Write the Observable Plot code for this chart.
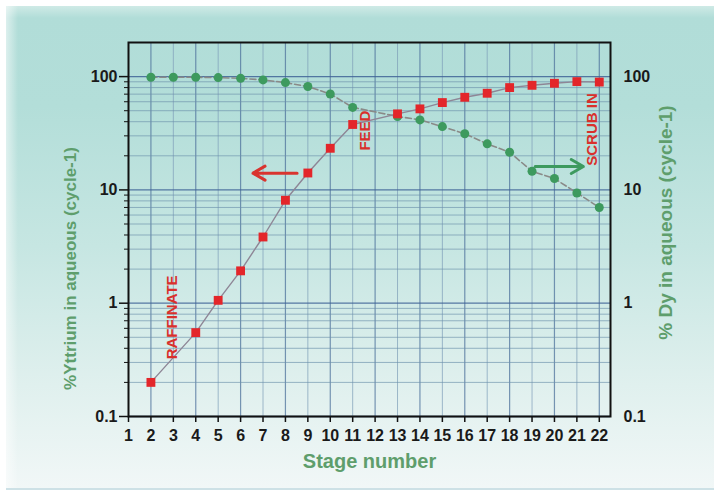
<!DOCTYPE html>
<html><head><meta charset="utf-8">
<script src="https://cdn.jsdelivr.net/npm/d3@7"></script>
<script src="https://cdn.jsdelivr.net/npm/@observablehq/plot@0.6"></script>
<style>
body{margin:0;background:#fff;}
#wrap{position:relative;width:714px;height:500px;overflow:hidden;background:#fff;}
#panel{position:absolute;left:6px;top:6px;width:708px;height:482px;
 background:linear-gradient(to bottom,#cfeae6 0px,#b1ddd8 12px,#b3ded9 100px,#c6e6e2 240px,#e0f0ee 380px,#f1f7f7 482px);
 border-bottom:2px solid #cde1e6;}
#edge{position:absolute;left:6px;top:6px;width:12px;height:482px;background:linear-gradient(to right,rgba(255,255,255,0.55),rgba(255,255,255,0));}
#chart{position:absolute;left:0;top:0;}
</style></head><body>
<div id="wrap"><div id="panel"></div><div id="edge"></div><div id="chart"></div></div>
<script>
// Stage tick labels
const stageTicks = [1,2,3,4,5,6,7,8,9,10,11,12,13,14,15,16,17,18,19,20,21,22];
const decadeTicks = [0.1, 1, 10, 100];

// %Yttrium in aqueous (left axis, red squares)
const yttriumStages = [2,4,5,6,7,8,9,10,11,13,14,15,16,17,18,19,20,21,22];
const yttriumValues = [0.2,0.55,1.06,1.93,3.84,8.1,14.1,23.3,37.8,46.9,51.9,59,65.7,71.3,80,83.8,87.3,90.3,89.5];

// % Dy in aqueous (right axis, green circles)
const dyStages = [2,3,4,5,6,7,8,9,10,11,13,14,15,16,17,18,19,20,21,22];
const dyValues = [98.8,98.8,98.6,98,96.6,93.5,88.5,81.7,70.3,53.5,44.5,41.5,36.2,31.3,25.5,21.5,14.6,12.6,9.4,7.0];

// Annotations
const labelTexts = ["RAFFINATE", "FEED", "SCRUB IN"];
const labelStages = [2.94, 11.56, 21.7];
const labelValues = [0.75, 33.4, 34.1];
const arrowFrom = [[8.52, 14.06], [19.14, 16.1]];
const arrowTo = [[6.55, 14.06], [21.29, 16.1]];
const arrowColors = ["#d9342f", "#3d9a5e"];

const yData = yttriumStages.map((s, i) => ({stage: s, value: yttriumValues[i]}));
const dData = dyStages.map((s, i) => ({stage: s, value: dyValues[i]}));
const labels = labelTexts.map((t, i) => ({text: t, stage: labelStages[i], value: labelValues[i]}));
const arrows = arrowFrom.map((f, i) => ({x1: f[0], y1: f[1], x2: arrowTo[i][0], y2: arrowTo[i][1], c: arrowColors[i]}));

const minorY = [];
for (const d of [0.1, 1, 10]) for (let k = 2; k <= 9; k++) minorY.push(+(d * k).toPrecision(3));

const fmt = d => String(d);
const font = {fontSize: 16, fontWeight: "bold", color: "#1a1a1a"};

const chart = Plot.plot({
  width: 714, height: 500,
  marginTop: 42, marginBottom: 84, marginLeft: 128, marginRight: 104,
  style: {background: "transparent", fontFamily: "'Liberation Sans', Arial, sans-serif"},
  x: {domain: [1, 22.5], label: null},
  y: {type: "log", domain: [0.1, 200], label: null},
  marks: [
    Plot.gridX(stageTicks.filter(d => d % 2 === 1), {stroke: "#7d9db8", strokeOpacity: 0.7, strokeWidth: 1}),
    Plot.gridX(stageTicks.filter(d => d % 2 === 0), {stroke: "#4f739c", strokeOpacity: 0.75, strokeWidth: 1.2}),
    Plot.gridY(minorY, {stroke: "#6b90aa", strokeOpacity: 0.65, strokeWidth: 1}),
    Plot.gridY(decadeTicks, {stroke: "#3f6496", strokeOpacity: 0.85, strokeWidth: 1.3}),
    Plot.line(dData, {x: "stage", y: "value", stroke: "#8a8a88", strokeWidth: 1.6, strokeDasharray: "6,3"}),
    Plot.line(yData, {x: "stage", y: "value", stroke: "#8e8696", strokeWidth: 1.4}),
    Plot.dot(dData, {x: "stage", y: "value", r: 4.5, fill: "#3d9a5e", stroke: "none"}),
    Plot.dot(yData, {x: "stage", y: "value", r: 5, symbol: "square", fill: "#e3262a", stroke: "none"}),
    Plot.arrow(arrows, {x1: "x1", y1: "y1", x2: "x2", y2: "y2", stroke: "c", strokeWidth: 3, headLength: 7, bend: 0}),
    Plot.text(labels, {x: "stage", y: "value", text: "text", rotate: -90, fill: "#d9302c", fontSize: 15, fontWeight: "bold"}),
    Plot.frame({stroke: "#111", strokeWidth: 2}),
    Plot.axisX(stageTicks, {anchor: "bottom", tickSize: 6, tickPadding: 7, tickFormat: fmt, stroke: "#111", strokeWidth: 1.5, ...font}),
    Plot.axisY(decadeTicks, {anchor: "left", tickSize: 9, tickPadding: 2, tickFormat: fmt, stroke: "#111", strokeWidth: 1.5, ...font}),
    Plot.axisY(minorY, {anchor: "left", tickSize: 4, tickFormat: () => "", stroke: "#111"}),
    Plot.axisY(decadeTicks, {anchor: "right", tickSize: 0, tickPadding: 13, tickFormat: fmt, ...font}),
    Plot.text(["Stage number"], {frameAnchor: "bottom", dy: 51, fill: "#5e9e6c", fontSize: 20, fontWeight: "bold"}),
    Plot.text(["%Yttrium in aqueous (cycle-1)"], {frameAnchor: "left", textAnchor: "middle", dx: -58, dy: 39, rotate: -90, fill: "#5e9e6c", fontSize: 17, fontWeight: "bold"}),
    Plot.text(["% Dy in aqueous (cycle-1)"], {frameAnchor: "right", textAnchor: "middle", dx: 55, dy: -7, rotate: -90, fill: "#5e9e6c", fontSize: 19, fontWeight: "bold"})
  ]
});
document.getElementById("chart").appendChild(chart);
</script>
</body></html>
